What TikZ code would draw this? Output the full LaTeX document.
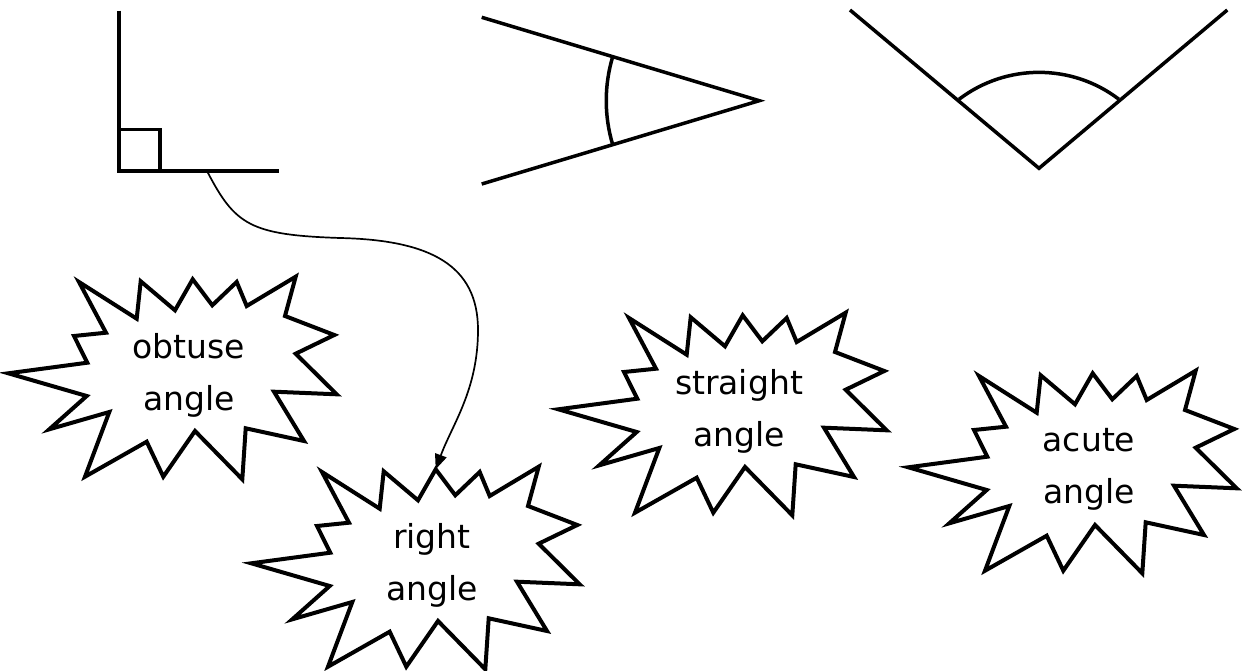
\documentclass[tikz,border=0pt]{standalone}
\usepackage{fontspec}
\setmainfont{DejaVu Sans}
\usetikzlibrary{arrows.meta}
\tikzset{
  burst/.style={draw=black, line width=4pt, line join=miter},
  burstlabel/.style={font=\fontsize{33pt}{52pt}\selectfont, align=center, inner sep=0pt},
  angleline/.style={draw=black, line width=3.5pt},
  anglearc/.style={draw=black, line width=3.5pt},
  pointer/.style={draw=black, line width=1.7pt, -{Triangle[length=15pt,width=12pt]}},
}
\newcommand{\drawburst}[1]{%
  \draw[burst, shift={(#1.center)}]
    (-180.7,-1.7) -- (-101.7,-12.3) -- (-115,-39) -- (-83,-42.3) -- (-110,-93)
    -- (-52.3,-56.3) -- (-48.3,-93.7) -- (-14,-64.7) -- (3.7,-95.7) -- (23.3,-69.7)
    -- (47.7,-93) -- (57.7,-69) -- (106.7,-98.3) -- (96,-59) -- (145.3,-40)
    -- (106.7,-21.3) -- (147.7,19.3) -- (85,16.7) -- (115,66) -- (56.7,53.3)
    -- (53.3,104.3) -- (6,56) -- (-25.7,101.7) -- (-42.3,66.7) -- (-104,101.7)
    -- (-79.7,37) -- (-139.7,54.3) -- (-102.3,21) -- cycle;
  \coordinate (#1-top) at ([shift={(3.7,-95.7)}]#1.center);
}
\begin{document}
\begin{tikzpicture}[x=1pt, y=-1pt]
\useasboundingbox (0,0) rectangle (1243,671);

% right angle figure
\coordinate (raTop) at (119,10.7);
\coordinate (raCorner) at (119,171);
\coordinate (raEnd) at (279,171);
\coordinate (raSq1) at (119,129.3);
\coordinate (raSq2) at (160,171);
\coordinate (raFoot) at (207,171);
\draw[angleline, line join=miter] (raTop) -- (raCorner) -- (raEnd);
\draw[angleline, line join=miter] (raSq1) -| (raSq2);

% acute angle figure
\coordinate (acA) at (481.7,17.3);
\coordinate (acApex) at (759.3,100.7);
\coordinate (acB) at (481.7,184);
\draw[angleline, line join=miter] (acA) -- (acApex) -- (acB);
\draw[anglearc] (612.7,56.7) .. controls (604.1,85.3) and (604.1,116.1) .. (612.7,144.7);

% obtuse angle figure
\coordinate (obA) at (850,10);
\coordinate (obVertex) at (1039,168.3);
\coordinate (obB) at (1227.3,10);
\draw[angleline, line join=miter] (obA) -- (obVertex) -- (obB);
\draw[anglearc] (959,99.3) .. controls (1006.2,63.4) and (1071.8,63.4) .. (1118.8,99.2);

% labels
\node[burstlabel] (obtuse) at (189,375) {obtuse\\angle};
\node[burstlabel] (right) at (432,565) {right\\angle};
\node[burstlabel] (straight) at (739,411) {straight\\angle};
\node[burstlabel] (acute) at (1089,469) {acute\\angle};
\drawburst{obtuse}
\drawburst{right}
\drawburst{straight}
\drawburst{acute}

% connector
\draw[pointer] (raFoot) .. controls (235,225) and (250,235) .. (340,238)
  .. controls (430,240) and (478,265) .. (478,330)
  .. controls (478,390) and (452,425) .. (right-top);
\end{tikzpicture}
\end{document}
